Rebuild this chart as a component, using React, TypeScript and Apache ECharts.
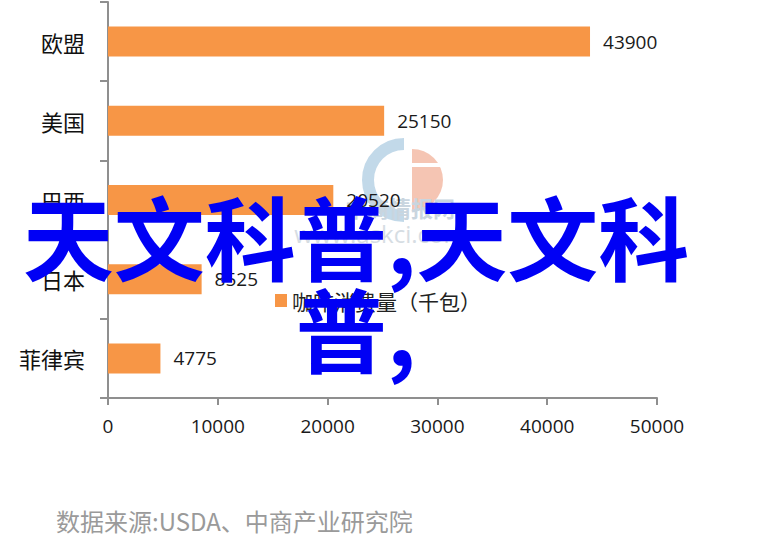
import { useEffect, useRef } from "react";
import * as echarts from "echarts";

// coffee consumption by region (thousand bags)
const categories = ["欧盟", "美国", "巴西", "日本", "菲律宾"];
const values = [43900, 25150, 20520, 8525, 4775];
const seriesName = "咖啡消费量（千包）";
const xMin = 0;
const xMax = 50000;
const xStep = 10000;
const sourceNote = "数据来源:USDA、中商产业研究院";
const overlayText = "天文科普,天文科\n普,";

const AXIS_GRAY = "#8f8f8f";
const BAR_ORANGE = "#f79646";

export default function App() {
  const chartRef = useRef<HTMLDivElement>(null);

  useEffect(() => {
    if (!chartRef.current) return;
    const chart = echarts.init(chartRef.current, undefined, { renderer: "svg" });

    chart.setOption({
      animation: false,
      backgroundColor: "#ffffff",
      grid: { left: 108, top: 2, width: 549, height: 396 },
      legend: {
        left: 270,
        top: 285,
        itemWidth: 12,
        itemHeight: 13,
        itemGap: 10,
        icon: "rect",
        textStyle: {
          fontFamily: "Noto Sans CJK SC",
          fontSize: 21,
          color: "#222",
        },
        data: [seriesName],
      },
      xAxis: {
        type: "value",
        min: xMin,
        max: xMax,
        interval: xStep,
        axisLine: { show: true, lineStyle: { color: AXIS_GRAY, width: 2 } },
        axisTick: { show: true, length: 7, lineStyle: { color: AXIS_GRAY, width: 2 } },
        splitLine: { show: false },
        axisLabel: {
          margin: 18,
          fontFamily: "Open Sans",
          fontSize: 19,
          color: "#1a1a1a",
          formatter: (v: number) => String(v),
        },
      },
      yAxis: {
        type: "category",
        inverse: true,
        data: categories,
        axisLine: { show: true, lineStyle: { color: AXIS_GRAY, width: 2 } },
        axisTick: { show: true, length: 8, lineStyle: { color: AXIS_GRAY, width: 2 } },
        axisLabel: {
          margin: 23,
          fontFamily: "Noto Sans CJK SC",
          fontSize: 22,
          color: "#111",
        },
      },
      series: [
        {
          name: seriesName,
          type: "bar",
          data: values,
          barWidth: 30,
          itemStyle: { color: BAR_ORANGE },
          label: {
            show: true,
            position: "right",
            distance: 13,
            fontFamily: "Open Sans",
            fontSize: 19,
            color: "#1a1a1a",
          },
        },
      ],
      graphic: [
        // faint site watermark behind the labels
        {
          type: "group",
          z: 1,
          silent: true,
          children: [
            {
              type: "arc",
              shape: { cx: 404, cy: 180, r: 36, startAngle: Math.PI / 2, endAngle: (3 * Math.PI) / 2 },
              style: { stroke: "#b3d0e3", lineWidth: 12, fill: "none", opacity: 0.8 },
            },
            {
              type: "sector",
              shape: { cx: 412, cy: 180, r0: 0, r: 31, startAngle: -Math.PI / 2, endAngle: Math.PI / 2 },
              style: { fill: "#f3b7a0", opacity: 0.8 },
            },
            {
              type: "rect",
              shape: { x: 412, y: 163, width: 32, height: 4 },
              style: { fill: "#ffffff" },
            },
            {
              type: "text",
              x: 400,
              y: 207,
              style: {
                text: "中商情报网",
                align: "center",
                verticalAlign: "middle",
                font: "bold 22px 'Noto Sans CJK SC'",
                fill: "#c9d5df",
              },
            },
            {
              type: "text",
              x: 380,
              y: 233,
              style: {
                text: "www.askci.com",
                align: "center",
                verticalAlign: "middle",
                font: "24px 'Open Sans'",
                fill: "#d6dde3",
              },
            },
          ],
        },
        {
          type: "text",
          left: 56,
          top: 508,
          style: {
            text: sourceNote,
            font: "24px 'Noto Sans CJK SC'",
            fill: "#9a9a9a",
          },
        },
        {
          type: "text",
          x: 356,
          y: 280,
          z: 100,
          style: {
            text: overlayText,
            align: "center",
            verticalAlign: "middle",
            font: "bold 91px 'Noto Sans CJK SC'",
            lineHeight: 92,
            fill: "#0000f5",
          },
        },
      ],
    });

    return () => {
      chart.dispose();
    };
  }, []);

  return (
    <div
      ref={chartRef}
      style={{ position: "absolute", left: 0, top: 0, width: 777, height: 548 }}
    />
  );
}
